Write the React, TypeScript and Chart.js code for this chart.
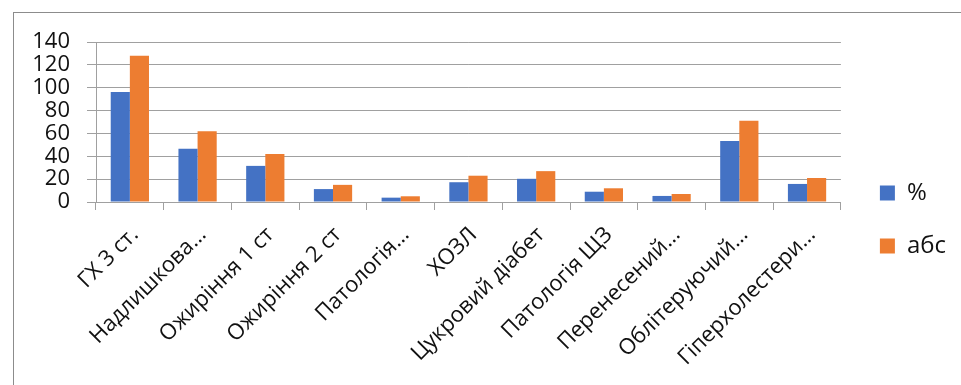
import React, { useEffect, useRef } from "react";
import { Chart, registerables } from "chart.js";

Chart.register(...registerables);

// Categories (truncated as shown on the axis)
const categories = [
  "ГХ 3 ст.",
  "Надлишкова…",
  "Ожиріння 1 ст",
  "Ожиріння 2 ст",
  "Патологія…",
  "ХОЗЛ",
  "Цукровий діабет",
  "Патологія ЩЗ",
  "Перенесений…",
  "Облітеруючий…",
  "Гіперхолестери…",
];

// Share of patients, %
const percentValues = [96.2, 46.6, 31.6, 11.3, 3.8, 17.3, 20.3, 9.0, 5.3, 53.4, 15.8];
// Absolute number of patients
const absoluteValues = [128, 62, 42, 15, 5, 23, 27, 12, 7, 71, 21];

const seriesNames = ["%", "абс"];
const seriesColors = ["#4472C4", "#ED7D31"];

const yMax = 140;
const yStep = 20;

const FONT = "'Open Sans', 'DejaVu Sans', sans-serif";
const GRID = "#a0a0a0";
const TEXT = "#111111";

// Nudges the legend box after layout so it sits a little away from the plot.
const legendShift = {
  id: "legendShift",
  afterLayout(chart: any) {
    const l = chart.legend;
    if (!l) return;
    const dx = 10;
    const dy = 6;
    l.left += dx;
    l.right += dx;
    l.top += dy;
    l.bottom += dy;
  },
};

export default function App() {
  const canvasRef = useRef<HTMLCanvasElement | null>(null);

  useEffect(() => {
    const canvas = canvasRef.current;
    if (!canvas) return;
    const chart = new Chart(canvas, {
      type: "bar",
      data: {
        labels: categories,
        datasets: [
          {
            label: seriesNames[0],
            data: percentValues,
            backgroundColor: seriesColors[0],
            barPercentage: 1,
            categoryPercentage: 0.565,
          },
          {
            label: seriesNames[1],
            data: absoluteValues,
            backgroundColor: seriesColors[1],
            barPercentage: 1,
            categoryPercentage: 0.565,
          },
        ],
      },
      options: {
        responsive: false,
        animation: false,
        devicePixelRatio: 1,
        layout: { padding: { top: 42, left: 0, right: 15, bottom: 0 } },
        plugins: {
          tooltip: { enabled: false },
          legend: {
            position: "right",
            align: "center",
            labels: {
              boxWidth: 15,
              boxHeight: 15,
              padding: 29,
              color: TEXT,
              font: { family: FONT, size: 24 },
            },
          },
        },
        scales: {
          x: {
            grid: {
              offset: true,
              drawOnChartArea: false,
              drawTicks: true,
              tickLength: 8,
              color: GRID,
              lineWidth: 1,
            },
            border: { display: true, color: GRID, width: 1 },
            ticks: {
              autoSkip: false,
              minRotation: 45,
              maxRotation: 45,
              padding: 12,
              labelOffset: 5,
              color: TEXT,
              font: { family: FONT, size: 22 },
            },
            afterFit(scale: any) {
              scale.height = 183;
            },
          },
          y: {
            min: 0,
            max: yMax,
            ticks: {
              stepSize: yStep,
              autoSkip: false,
              padding: 17,
              color: TEXT,
              font: { family: FONT, size: 22 },
            },
            grid: {
              color: GRID,
              lineWidth: 1,
              drawTicks: true,
              tickLength: 9,
            },
            border: { display: true, color: GRID, width: 1 },
            afterFit(scale: any) {
              scale.width = 96;
            },
          },
        },
      },
      plugins: [legendShift],
    });
    return () => chart.destroy();
  }, []);

  return (
    <div
      style={{
        position: "fixed",
        left: 0,
        top: 0,
        width: 961,
        height: 385,
        overflow: "hidden",
        background: "#ffffff",
      }}
    >
      <div
        style={{
          position: "absolute",
          left: 13,
          top: 12,
          width: 1000,
          height: 400,
          borderLeft: "1px solid #8c8c8c",
          borderTop: "1px solid #8c8c8c",
        }}
      />
      <canvas
        ref={canvasRef}
        width={961}
        height={385}
        style={{ position: "absolute", left: 0, top: 0, width: 961, height: 385 }}
      />
    </div>
  );
}
